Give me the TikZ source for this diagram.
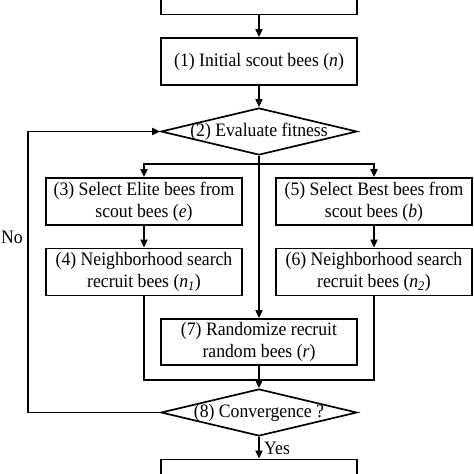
\documentclass[tikz,border=0pt]{standalone}
\usepackage{fontspec}
\setmainfont[FakeStretch=0.93]{Liberation Serif}
\usetikzlibrary{arrows.meta,shapes.geometric}
\begin{document}
\begin{tikzpicture}[x=1pt,y=-1pt,
  txt/.style={font=\fontsize{19}{22}\selectfont},
  box/.style={draw,line width=1.7pt,minimum width=196pt,minimum height=47pt,inner sep=0pt,align=center,txt},
  dia/.style={draw,diamond,line width=1.7pt,minimum width=196pt,minimum height=47pt,inner sep=0pt},
  lbl/.style={txt,inner sep=0pt},
  conn/.style={line width=1.7pt},
  arr/.style={conn,-{Triangle[length=8pt,width=7pt]}}]
\useasboundingbox (0,0) rectangle (474,474);
\fill[white] (0,0) rectangle (474,474);
\node[box,minimum height=49pt] (b0) at (259,-10) {};
\node[box] (b1) at (259,61.5) {(1) Initial scout bees (\textit{n})};
\node[dia] (d2) at (259,131.5) {};
\node[lbl] (t2) at (d2) {(2) Evaluate fitness};
\node[box] (b3) at (144,201.5) {(3) Select Elite bees from\\scout bees (\textit{e})};
\node[box] (b5) at (374,201.5) {(5) Select Best bees from\\scout bees (\textit{b})};
\node[box] (b4) at (144,272) {(4) Neighborhood search\\recruit bees (\textit{n}\textsubscript{\textit{1}})};
\node[box] (b6) at (374,272) {(6) Neighborhood search\\recruit bees (\textit{n}\textsubscript{\textit{2}})};
\node[box,minimum height=46pt] (b7) at (259,342) {(7) Randomize recruit\\random bees (\textit{r})};
\node[dia] (d8) at (259,412.5) {};
\node[lbl] (t8) at (d8) {(8) Convergence ?};
\node[box,minimum height=49pt] (b9) at (259,484) {};
\node[lbl,anchor=west] (yes) at (264,448) {Yes};
\node[lbl] (no) at (12,237) {No};
\coordinate (s) at (259,164);
\coordinate (m) at (259,380);
\coordinate (lb) at (28,412.5);
\coordinate (lt) at (28,131.5);
\draw[arr] (b0) -- (b1);
\draw[arr] (b1) -- (d2);
\draw[arr] (d2.south) -- (b7.north);
\draw[arr] (s) -| (b3.north);
\draw[arr] (s) -| (b5.north);
\draw[arr] (b3) -- (b4);
\draw[arr] (b5) -- (b6);
\draw[conn] (b4.south) |- (m) -| (b6.south);
\draw[arr] (b7) -- (d8);
\draw[arr] (d8) -- (b9);
\draw[arr] (d8.west) -- (lb) -- (lt) -- (d2.west);
\end{tikzpicture}
\end{document}
